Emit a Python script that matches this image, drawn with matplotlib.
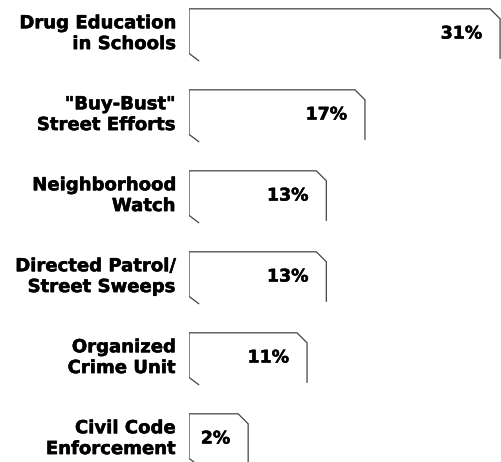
import numpy as np
import matplotlib.pyplot as plt
import matplotlib.patheffects as pe

# Share of agencies using each drug-enforcement strategy
programs = ["Drug Education\nin Schools", "\"Buy-Bust\"\nStreet Efforts",
            "Neighborhood\nWatch", "Directed Patrol/\nStreet Sweeps",
            "Organized\nCrime Unit", "Civil Code\nEnforcement"]
shares = [31, 17, 13, 13, 11, 2]

pad = 1.23  # bars start a bit left of zero
bar_len = np.maximum(shares, 4.9)  # smallest bar widened to hold its label
ypos = np.arange(len(programs))

heavy = [pe.withStroke(linewidth=0.35, foreground="black")]

fig = plt.figure(figsize=(5.02, 4.62), dpi=100)
ax = fig.add_axes([189 / 502, 0, 313 / 502, 1])
ax.set_xlim(-pad, 31.2)
ax.set_ylim(5.29, -0.414)

bars = ax.barh(ypos, bar_len + pad, left=-pad, height=0.61,
               color="white", edgecolor="none")

# outline with a clipped top-right corner, open along the bottom
fig.canvas.draw()
xpp = (ax.get_xlim()[1] - ax.get_xlim()[0]) / ax.bbox.width
ypp = abs(ax.get_ylim()[1] - ax.get_ylim()[0]) / ax.bbox.height
cx, cy = 10 * xpp, 10 * ypp
for b in bars:
    x0, w = b.get_x(), b.get_width()
    top, bot = b.get_y(), b.get_y() + b.get_height()
    xs = [x0 + 1.0, x0, x0, x0 + w - cx, x0 + w, x0 + w]
    ys = [bot + 0.03, bot - 0.06, top, top, top + cy, bot]
    ax.plot(xs, ys, color="#444444", lw=0.9, solid_joinstyle="miter")

for y, v, L in zip(ypos, shares, bar_len):
    ax.text(L - 18 * xpp, y, f"{v}%", ha="right", va="center",
            fontsize=12.5, fontweight="bold", path_effects=heavy)

ax.set_yticks(ypos - 0.04)
ax.set_yticklabels(programs, fontsize=13, fontweight="bold", linespacing=1.2)
for t in ax.get_yticklabels():
    t.set_path_effects(heavy)
ax.tick_params(axis="y", length=0, pad=10)
ax.set_xticks([])
for s in ax.spines.values():
    s.set_visible(False)

plt.savefig("out.png", dpi=100)
